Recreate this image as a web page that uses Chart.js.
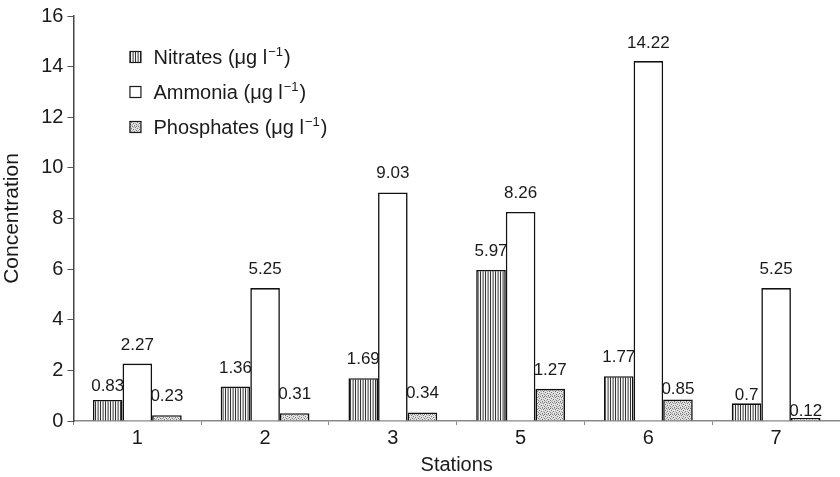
<!DOCTYPE html>
<html>
<head>
<meta charset="utf-8">
<script src="https://cdn.jsdelivr.net/npm/chart.js@4.4.0/dist/chart.umd.min.js"></script>
<style>
  html, body { margin: 0; padding: 0; background: #fff; }
  #wrap { width: 840px; height: 477px; position: relative; }
</style>
</head>
<body>
<div id="wrap"><canvas id="chart_stations"></canvas></div>
<script>
/* jshint esversion:6*/
const stations = ['1', '2', '3', '5', '6', '7'];
const nitrates = [0.83, 1.36, 1.69, 5.97, 1.77, 0.7];
const ammonia = [2.27, 5.25, 9.03, 8.26, 14.22, 5.25];
const phosphates = [0.23, 0.31, 0.34, 1.27, 0.85, 0.12];
const series_names = ['Nitrates', 'Ammonia', 'Phosphates'];

// gap (px) between bar top and label baseline; small bars had theirs squeezed down
const label_gap = [
  [9, 14, 14, 14, 14, 3],
  [14, 14, 14, 14, 13, 14],
  [14, 14, 14, 14, 5, 2]
];

const FONT = '"Liberation Sans", Arial, sans-serif';

// vertical hatching for nitrates
const _f_stripe_pattern = function () {
  let c = document.createElement('canvas');
  c.width = 5; c.height = 4;
  let g = c.getContext('2d');
  g.fillStyle = '#f6f6f6';
  g.fillRect(0, 0, 5, 4);
  g.fillStyle = '#333';
  g.fillRect(0, 0, 1, 4);
  g.fillStyle = '#aaa';
  g.fillRect(2, 0, 1, 4);
  g.fillStyle = '#888';
  g.fillRect(3, 0, 1, 4);
  return g.createPattern(c, 'repeat');
};

// stipple for phosphates
const _f_dot_pattern = function () {
  let c = document.createElement('canvas');
  c.width = 6; c.height = 6;
  let g = c.getContext('2d');
  g.fillStyle = '#e2e2e2';
  g.fillRect(0, 0, 6, 6);
  g.fillStyle = '#777';
  [[0,0],[3,1],[1,3],[4,4],[5,2],[2,5],[4,0]].forEach(p => g.fillRect(p[0], p[1], 1, 1));
  g.fillStyle = '#aaa';
  [[2,0],[5,5],[0,4],[3,3],[1,1]].forEach(p => g.fillRect(p[0], p[1], 1, 1));
  return g.createPattern(c, 'repeat');
};

const fills = [_f_stripe_pattern(), '#ffffff', _f_dot_pattern()];

// value above each bar
const valueLabels = {
  id: 'valueLabels',
  afterDatasetsDraw(chart) {
    let ctx = chart.ctx;
    ctx.save();
    ctx.font = `17px ${FONT}`;
    ctx.fillStyle = '#1a1a1a';
    ctx.textAlign = 'center';
    ctx.textBaseline = 'alphabetic';
    chart.data.datasets.forEach((ds, i) => {
      chart.getDatasetMeta(i).data.forEach((bar, j) => {
        ctx.fillText(String(ds.data[j]), bar.x, bar.y - label_gap[i][j]);
      });
    });
    ctx.restore();
  }
};

// legend drawn inside the plot area
const innerLegend = {
  id: 'innerLegend',
  afterDraw(chart) {
    let ctx = chart.ctx;
    let area = chart.chartArea;
    let x = area.left + 56, y = area.top + 41;
    ctx.save();
    chart.data.datasets.forEach((ds, i) => {
      let yy = y + i * 35;
      ctx.fillStyle = ds.backgroundColor;
      ctx.fillRect(x, yy - 6, 12, 12);
      ctx.strokeStyle = '#1a1a1a';
      ctx.lineWidth = 1.2;
      ctx.strokeRect(x + 0.5, yy - 5.5, 11, 11);
      ctx.fillStyle = '#1a1a1a';
      ctx.textBaseline = 'middle';
      ctx.textAlign = 'left';
      ctx.font = `20px ${FONT}`;
      let s = `${ds.label} (\u03bcg l`;
      let tx = x + 24;
      ctx.fillText(s, tx, yy + 1);
      tx += ctx.measureText(s).width + 1;
      ctx.font = `13px ${FONT}`;
      ctx.fillText('\u22121', tx, yy - 5);
      tx += ctx.measureText('\u22121').width + 1;
      ctx.font = `20px ${FONT}`;
      ctx.fillText(')', tx, yy + 1);
    });
    ctx.restore();
  }
};

const seriesData = [nitrates, ammonia, phosphates];
let datasets = series_names.map((name, i) => ({
  label: name,
  data: seriesData[i],
  backgroundColor: fills[i],
  borderColor: '#111',
  borderWidth: 1.6,
  borderSkipped: 'bottom',
  categoryPercentage: 0.695,
  barPercentage: 1.0
}));

let ctx = document.getElementById('chart_stations').getContext('2d');
let chartjs = new Chart(ctx, {
  type: 'bar',
  data: { labels: stations, datasets: datasets },
  plugins: [valueLabels, innerLegend],
  options: {
    responsive: true,
    maintainAspectRatio: false,
    animation: false,
    devicePixelRatio: 1,
    layout: { padding: { top: 1, right: 0, left: 0, bottom: 0 } },
    plugins: {
      legend: { display: false },
      tooltip: { enabled: false }
    },
    scales: {
      x: {
        offset: true,
        grid: {
          display: true,
          offset: true,
          drawOnChartArea: false,
          drawTicks: true,
          tickLength: 4,
          color: '#888'
        },
        border: { color: '#888', width: 1.5 },
        ticks: { color: '#1a1a1a', font: { family: FONT, size: 20 }, padding: 1 },
        title: {
          display: true,
          text: 'Stations',
          color: '#1a1a1a',
          font: { family: FONT, size: 20 },
          padding: { top: 2, bottom: 0 }
        }
      },
      y: {
        min: 0,
        max: 16,
        ticks: { stepSize: 2, color: '#1a1a1a', font: { family: FONT, size: 20 }, padding: 4 },
        grid: {
          drawOnChartArea: false,
          drawTicks: true,
          tickLength: 6,
          color: '#555'
        },
        border: { color: '#444', width: 1.5, dash: [1, 1] },
        title: {
          display: true,
          text: 'Concentration',
          color: '#1a1a1a',
          font: { family: FONT, size: 21 },
          padding: { top: 0, bottom: 12 }
        }
      }
    }
  }
});
</script>
</body>
</html>
